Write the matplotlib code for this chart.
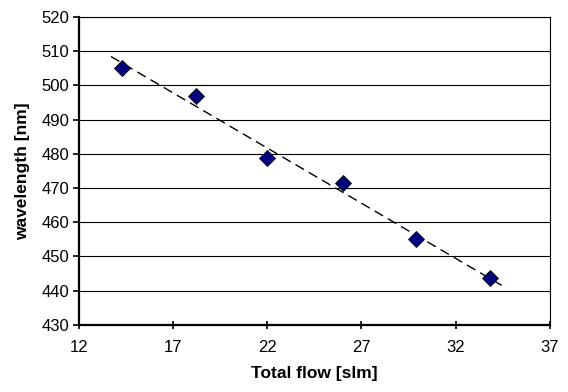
import numpy as np
import matplotlib
matplotlib.use("Agg")
import matplotlib.pyplot as plt

plt.rcParams.update({"font.family": ["Liberation Sans", "DejaVu Sans"], "font.size": 12})

# data
flow = [14.3, 18.2, 22.0, 26.0, 29.9, 33.8]
wavelength = [505.0, 497.0, 478.7, 471.4, 455.0, 443.6]
trend_span = [13.7, 34.5]  # extent of the linear trendline

fig = plt.figure(figsize=(5.68, 3.92), dpi=100)
ax = fig.add_axes([0.139, 0.171, 0.829, 0.786])

k, b = np.polyfit(flow, wavelength, 1)
tx = np.array(trend_span)
ax.plot(tx, k * tx + b, color="black", lw=1.0, dashes=(7, 4), zorder=2)
ax.plot(flow, wavelength, "D", ms=8.5, mfc="#000080", mec="black", mew=0.6, zorder=3)

ax.set_xlim(12, 37)
ax.set_ylim(430, 520)
ax.set_xticks(np.arange(12, 38, 5))
ax.set_yticks(np.arange(430, 521, 10))
ax.yaxis.grid(True, color="black", lw=0.8)
ax.set_axisbelow(True)

for s in ["top", "right"]:
    ax.spines[s].set_linewidth(0.8)
for s in ["left", "bottom"]:
    ax.spines[s].set_linewidth(1.6)
ax.tick_params(axis="y", direction="out", length=4, width=1.2, labelsize=12, pad=3)
ax.tick_params(axis="x", direction="inout", length=6, width=1.2, labelsize=12, pad=8)

ax.set_xlabel("Total flow [slm]", fontweight="bold", fontsize=12.5, labelpad=8)
ax.set_ylabel("wavelength [nm]", fontweight="bold", fontsize=12.5, labelpad=8)

fig.savefig("out.png", dpi=100)
